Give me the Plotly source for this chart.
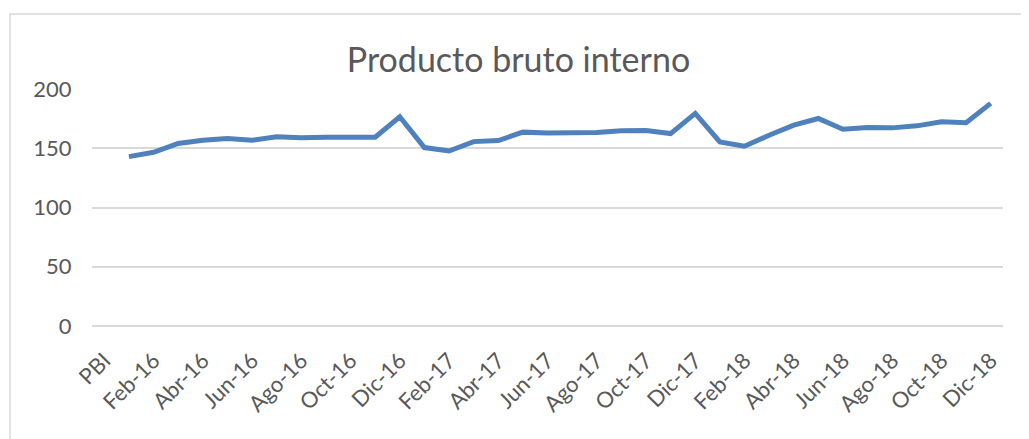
import plotly.graph_objects as go

meses = ["Ene", "Feb", "Mar", "Abr", "May", "Jun", "Jul", "Ago", "Sep", "Oct", "Nov", "Dic"]
anios = ["16", "17", "18"]
categorias = ["PBI"] + [f"{m}-{a}" for a in anios for m in meses]

pbi = [None,
       142.9, 146.6, 154.0, 156.8, 158.2, 156.8, 159.6, 158.8, 159.3, 159.3, 159.3, 176.6,
       150.6, 147.7, 155.6, 156.5, 163.6, 162.9, 162.7, 163.3, 164.7, 165.0, 162.4, 179.4,
       155.4, 151.7, 161.0, 169.5, 175.1, 166.1, 167.5, 167.2, 168.9, 172.3, 171.5, 187.9]

ticks_x = categorias[::2]
ticks_y = [0, 50, 100, 150, 200]

FONT = "Lato, 'Open Sans', sans-serif"
GRAY = "#595959"
GRID = "#d9d9d9"

W, H = 1021, 431
L, T, R, B = 84, 81, 26, 113
PW, PH = W - L - R, H - T - B

fig = go.Figure()
fig.add_trace(go.Scatter(
    x=categorias, y=pbi, mode="lines",
    line=dict(color="#4f81bd", width=5, shape="linear"),
    connectgaps=False, showlegend=False,
))

fig.update_layout(
    width=W, height=H,
    margin=dict(l=L, r=R, t=T, b=B, autoexpand=False),
    paper_bgcolor="white", plot_bgcolor="white",
    title=dict(text="Producto bruto interno", x=0.5, xanchor="center",
               y=1 - 52 / H, yanchor="middle",
               font=dict(family=FONT, size=34, color=GRAY)),
    font=dict(family=FONT, color=GRAY),
    xaxis=dict(
        type="category", categoryorder="array", categoryarray=categorias,
        range=[-0.5, len(categorias) - 0.5],
        tickmode="array", tickvals=ticks_x, ticktext=ticks_x,
        tickangle=-45, tickfont=dict(family=FONT, size=22, color=GRAY),
        ticks="outside", ticklen=12, tickcolor="rgba(0,0,0,0)",
        showgrid=False, showline=False, zeroline=False, automargin=False,
    ),
    yaxis=dict(
        range=[0, 200], tickmode="array", tickvals=ticks_y,
        tickfont=dict(family=FONT, size=22, color=GRAY),
        ticks="outside", ticklen=15, tickcolor="rgba(0,0,0,0)",
        showgrid=True, gridcolor=GRID, gridwidth=1.5,
        zeroline=True, zerolinecolor=GRID, zerolinewidth=1.5,
        showline=False, automargin=False,
    ),
    shapes=[dict(type="rect", xref="paper", yref="paper",
                 x0=(2 - L) / PW, x1=1.2, y0=-1.0, y1=(H - B - 6) / PH,
                 line=dict(color=GRID, width=1.5), fillcolor="rgba(0,0,0,0)",
                 layer="below")],
)

fig.write_html("out.html")
